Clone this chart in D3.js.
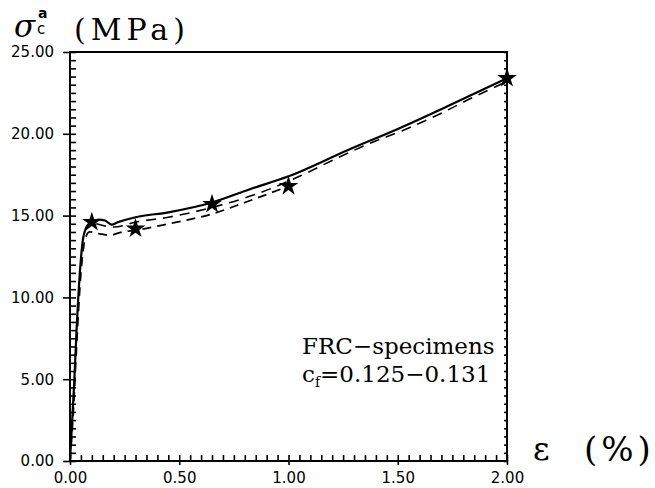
<!DOCTYPE html>
<html>
<head>
<meta charset="utf-8">
<script src="https://cdn.jsdelivr.net/npm/d3@7"></script>
<style>
  body { margin: 0; background: #fff; }
  svg { display: block; }
</style>
</head>
<body>
<div id="chart"></div>
<script>
// curves, [strain %, stress MPa]
var solidCurve = [[0,0],[0.01,2.5],[0.02,5],[0.03,8],[0.045,11.5],[0.06,13.6],[0.08,14.4],[0.10,14.6],
  [0.13,14.75],[0.16,14.7],[0.19,14.45],[0.22,14.6],[0.30,14.9],[0.45,15.2],[0.65,15.8],[0.82,16.6],
  [1.0,17.4],[1.27,19.0],[1.5,20.3],[1.73,21.7],[2.0,23.4]];
var dashedLow = [[0,0],[0.015,3],[0.03,7],[0.05,11.5],[0.07,13.6],[0.09,14.0],[0.13,13.9],[0.18,13.8],
  [0.24,14.0],[0.30,14.1],[0.45,14.5],[0.65,15.1],[0.80,15.8],[1.0,16.8]];
var dashedHigh = [[0.12,14.5],[0.2,14.3],[0.3,14.6],[0.45,14.9],[0.65,15.5],[0.85,16.3],[1.05,17.4],
  [1.22,18.5],[1.37,19.4],[1.54,20.3],[1.69,21.2],[1.84,22.2],[2.0,23.2]];

// failure points (stars)
var starX = [0.10, 0.30, 0.65, 1.00, 2.00];
var starY = [14.6, 14.2, 15.7, 16.8, 23.4];

// ticks
var xMajor = [0, 0.5, 1.0, 1.5, 2.0];
var yMajor = [0, 5, 10, 15, 20, 25];
var xMinor = d3.range(0, 2.0001, 0.05);
var yMinor = d3.range(0, 25.0001, 0.5);

var W = 655, H = 488;
var pLeft = 70, pRight = 507, pTop = 52, pBottom = 461;

var svg = d3.select("#chart").append("svg")
  .attr("width", W).attr("height", H);

var x = d3.scaleLinear().domain([0, 2]).range([pLeft, pRight]);
var y = d3.scaleLinear().domain([0, 25]).range([pBottom, pTop]);

var tickFont = "'DejaVu Sans', sans-serif";

// frame
svg.append("rect")
  .attr("x", pLeft).attr("y", pTop)
  .attr("width", pRight - pLeft).attr("height", pBottom - pTop)
  .attr("fill", "none").attr("stroke", "#000").attr("stroke-width", 2);

// inside minor ticks
svg.append("g")
  .attr("transform", "translate(" + pLeft + ",0)")
  .call(d3.axisLeft(y).tickValues(yMinor).tickFormat("").tickSizeInner(-6).tickSizeOuter(0))
  .call(function (g) { g.select(".domain").remove(); });
svg.append("g")
  .attr("transform", "translate(" + pRight + ",0)")
  .call(d3.axisRight(y).tickValues(yMinor).tickFormat("").tickSizeInner(-3).tickSizeOuter(0))
  .call(function (g) { g.select(".domain").remove(); });
svg.append("g")
  .attr("transform", "translate(0," + pBottom + ")")
  .call(d3.axisBottom(x).tickValues(xMinor).tickFormat("").tickSizeInner(-6).tickSizeOuter(0))
  .call(function (g) { g.select(".domain").remove(); });

// major ticks with labels
var yAxis = svg.append("g")
  .attr("transform", "translate(" + pLeft + ",0)")
  .call(d3.axisLeft(y).tickValues(yMajor).tickFormat(d3.format(".2f")).tickSizeInner(7).tickSizeOuter(0).tickPadding(9));
yAxis.select(".domain").remove();
yAxis.selectAll("text").style("font-family", tickFont).style("font-size", "15px").attr("fill", "#000");

var xAxis = svg.append("g")
  .attr("transform", "translate(0," + pBottom + ")")
  .call(d3.axisBottom(x).tickValues(xMajor).tickFormat(d3.format(".2f")).tickSizeInner(4).tickSizeOuter(0).tickPadding(7));
xAxis.select(".domain").remove();
xAxis.selectAll("text").style("font-family", tickFont).style("font-size", "15px").attr("fill", "#000");

svg.selectAll(".tick line").attr("stroke", "#000").attr("stroke-width", 1.6);

// curves
var line = d3.line()
  .x(function (d) { return x(d[0]); })
  .y(function (d) { return y(d[1]); })
  .curve(d3.curveMonotoneX);

svg.append("path").datum(dashedLow)
  .attr("d", line).attr("fill", "none").attr("stroke", "#000")
  .attr("stroke-width", 1.8).attr("stroke-dasharray", "9,6");
svg.append("path").datum(dashedHigh)
  .attr("d", line).attr("fill", "none").attr("stroke", "#000")
  .attr("stroke-width", 1.6).attr("stroke-dasharray", "10,7");
svg.append("path").datum(solidCurve)
  .attr("d", line).attr("fill", "none").attr("stroke", "#000")
  .attr("stroke-width", 2.2);

// stars
svg.selectAll(".star")
  .data(starX)
  .enter().append("path")
  .attr("class", "star")
  .attr("d", d3.symbol().type(d3.symbolStar).size(120))
  .attr("transform", function (d, i) { return "translate(" + x(d) + "," + y(starY[i]) + ")"; })
  .attr("fill", "#000");

// axis titles
var serif = "'DejaVu Serif', serif";
var yt = svg.append("text").attr("x", 14).attr("y", 37)
  .style("font-family", serif).attr("fill", "#000");
yt.append("tspan").style("font-style", "italic").style("font-size", "31px").text("σ");
yt.append("tspan").attr("x", 38).attr("y", 18).style("font-family", tickFont)
  .style("font-weight", "bold").style("font-size", "14px").text("a");
yt.append("tspan").attr("x", 37).attr("y", 34).style("font-family", tickFont)
  .style("font-size", "15px").text("c");
svg.append("text").attr("x", 74).attr("y", 40)
  .style("font-family", serif).style("font-size", "30px").style("letter-spacing", "5px")
  .attr("fill", "#000").text("(MPa)");

svg.append("text").attr("x", 533).attr("y", 460)
  .style("font-family", serif).style("font-size", "32px")
  .attr("fill", "#000").text("ε");
svg.append("text").attr("x", 584).attr("y", 461)
  .style("font-family", serif).style("font-size", "34px").style("letter-spacing", "4px")
  .attr("fill", "#000").text("(%)");

// annotation
var ann = svg.append("g").style("font-family", serif).style("font-size", "23px")
  .attr("fill", "#000");
ann.append("text").attr("x", 302).attr("y", 354).text("FRC−specimens");
var l2 = ann.append("text").attr("x", 302).attr("y", 382);
l2.append("tspan").text("c");
l2.append("tspan").attr("dy", 5).style("font-size", "14px").text("f");
l2.append("tspan").attr("dy", -5).text("=0.125−0.131");
</script>
</body>
</html>
